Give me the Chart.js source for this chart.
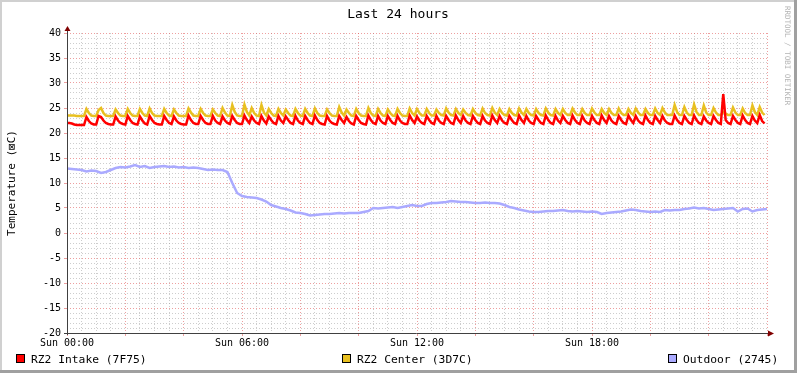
<!DOCTYPE html>
<html lang="en">
<head>
<meta charset="utf-8" />
<title>Last 24 hours</title>
<script src="https://cdn.jsdelivr.net/npm/chart.js@4.4.1/dist/chart.umd.min.js"></script>
<style>
  html, body { margin: 0; padding: 0; background: #fff; }
  #wrap { position: relative; width: 797px; height: 373px; }
</style>
</head>
<body>
<div id="wrap"><canvas id="rrd" width="797" height="373"></canvas></div>
<script>
// series names as in the legend
const seriesNames = ['RZ2 Intake (7F75)', 'RZ2 Center (3D7C)', 'Outdoor (2745)'];
const seriesColors = ['#ff0000', '#e8c020', '#aaaaff'];
const timeLabels = ['Sun 00:00', 'Sun 06:00', 'Sun 12:00', 'Sun 18:00'];

// intake + center are sampled every 5 minutes, outdoor every 10 minutes
const rackStep = 5;
const outdoorStep = 10;

const intake = [
  22.0, 22.0, 21.9, 21.7, 21.6, 21.6, 21.6, 21.6, 23.2, 22.4, 21.9, 21.7,
  21.7, 23.4, 23.2, 22.5, 22.0, 21.8, 21.7, 21.7, 23.3, 22.5, 22.0, 21.8,
  21.7, 23.4, 22.6, 22.0, 21.8, 21.7, 23.3, 22.5, 21.9, 21.7, 23.4, 22.6,
  22.0, 21.8, 21.7, 21.7, 23.4, 22.6, 22.0, 21.8, 23.3, 22.5, 22.0, 21.8,
  21.7, 21.7, 23.5, 22.6, 22.0, 21.8, 21.8, 23.4, 22.6, 22.0, 21.8, 21.8,
  23.4, 22.5, 22.0, 21.8, 23.3, 22.5, 22.0, 21.8, 23.4, 22.6, 22.0, 21.8,
  21.8, 23.5, 22.6, 22.0, 23.3, 22.5, 22.0, 21.8, 23.4, 22.5, 21.9, 23.3,
  22.6, 22.0, 21.8, 23.4, 22.5, 22.0, 23.3, 22.6, 22.0, 21.8, 23.4, 22.5,
  22.0, 21.8, 23.4, 22.6, 22.0, 21.8, 23.5, 22.6, 22.0, 21.8, 21.7, 23.4,
  22.5, 22.0, 21.8, 21.7, 23.4, 22.6, 22.0, 23.2, 22.4, 21.9, 21.7, 23.4,
  22.6, 22.0, 21.8, 21.7, 23.5, 22.6, 22.0, 21.8, 23.4, 22.5, 22.0, 21.8,
  23.4, 22.6, 22.0, 21.8, 23.4, 22.5, 22.0, 21.8, 21.8, 23.5, 22.6, 22.0,
  23.3, 22.5, 22.0, 21.8, 23.4, 22.6, 22.0, 21.8, 23.4, 22.5, 22.0, 21.8,
  23.4, 22.6, 22.0, 21.8, 23.5, 22.6, 22.0, 23.4, 22.5, 22.0, 21.8, 23.4,
  22.6, 22.0, 21.8, 23.4, 22.5, 22.0, 21.8, 23.5, 22.6, 22.0, 23.4, 22.5,
  22.0, 21.8, 23.4, 22.6, 22.0, 21.8, 23.5, 22.6, 22.0, 23.4, 22.5, 22.0,
  21.8, 23.4, 22.6, 22.0, 21.8, 23.5, 22.6, 22.0, 21.8, 23.4, 22.5, 22.0,
  23.4, 22.6, 22.0, 21.8, 23.5, 22.6, 22.0, 21.8, 23.4, 22.5, 22.0, 21.8,
  23.4, 22.6, 22.0, 21.8, 23.5, 22.6, 22.0, 23.4, 22.5, 22.0, 21.8, 23.4,
  22.6, 22.0, 21.8, 23.5, 22.6, 22.0, 23.4, 22.5, 22.0, 21.8, 23.5, 22.6,
  22.0, 21.8, 23.4, 22.6, 22.0, 23.4, 22.5, 22.0, 21.8, 21.8, 23.5, 22.6,
  22.0, 21.8, 23.4, 22.6, 22.0, 21.8, 23.5, 22.6, 22.0, 21.8, 23.3, 22.5,
  22.0, 21.8, 23.4, 22.6, 22.0, 21.8, 27.8, 22.6, 22.0, 21.8, 23.4, 22.6,
  22.0, 21.8, 23.5, 22.6, 22.0, 21.8, 23.4, 22.5, 22.0, 23.6, 22.4, 21.9
];

const center = [
  23.5, 23.5, 23.5, 23.5, 23.4, 23.4, 23.4, 23.4, 24.8, 24.0, 23.5, 23.4,
  23.4, 24.6, 25.0, 24.0, 23.5, 23.4, 23.4, 23.4, 24.7, 24.0, 23.5, 23.4,
  23.4, 24.8, 24.0, 23.5, 23.4, 23.4, 24.8, 24.0, 23.5, 23.4, 24.9, 24.0,
  23.5, 23.4, 23.4, 23.4, 24.8, 24.0, 23.5, 23.4, 24.7, 24.0, 23.5, 23.4,
  23.4, 23.4, 24.9, 24.1, 23.5, 23.4, 23.4, 24.8, 24.0, 23.5, 23.4, 23.4,
  24.7, 24.0, 23.5, 23.4, 25.0, 24.1, 23.5, 23.4, 25.6, 24.2, 23.5, 23.4,
  23.4, 25.7, 24.2, 23.5, 25.0, 24.0, 23.5, 23.4, 25.6, 24.1, 23.5, 24.8,
  24.0, 23.5, 23.4, 24.8, 24.0, 23.5, 24.7, 24.0, 23.5, 23.4, 24.8, 24.0,
  23.5, 23.4, 24.8, 24.0, 23.5, 23.4, 24.9, 24.0, 23.5, 23.4, 23.4, 24.7,
  24.0, 23.5, 23.4, 23.4, 25.2, 24.1, 23.5, 24.7, 24.0, 23.5, 23.4, 24.8,
  24.0, 23.5, 23.4, 23.4, 25.0, 24.0, 23.5, 23.4, 24.8, 24.0, 23.5, 23.4,
  24.7, 24.0, 23.5, 23.4, 24.8, 24.0, 23.5, 23.4, 23.4, 24.9, 24.0, 23.5,
  24.8, 24.0, 23.5, 23.5, 24.8, 24.0, 23.5, 23.5, 24.7, 24.0, 23.6, 23.5,
  24.9, 24.1, 23.6, 23.5, 24.8, 24.0, 23.6, 24.7, 24.0, 23.6, 23.5, 24.8,
  24.0, 23.6, 23.5, 24.9, 24.0, 23.6, 23.5, 25.0, 24.1, 23.6, 24.8, 24.0,
  23.6, 23.5, 24.8, 24.0, 23.6, 23.5, 24.9, 24.1, 23.6, 24.8, 24.0, 23.6,
  23.5, 24.8, 24.0, 23.6, 23.5, 24.9, 24.1, 23.6, 23.5, 24.8, 24.0, 23.6,
  24.8, 24.0, 23.6, 23.6, 24.9, 24.1, 23.6, 23.6, 24.8, 24.0, 23.6, 23.6,
  24.9, 24.1, 23.6, 23.6, 24.8, 24.0, 23.6, 24.8, 24.0, 23.6, 23.6, 24.9,
  24.0, 23.6, 23.6, 24.8, 24.0, 23.6, 24.9, 24.1, 23.6, 23.6, 24.8, 24.0,
  23.6, 23.6, 24.9, 24.0, 23.6, 25.0, 24.1, 23.6, 23.6, 23.6, 25.6, 24.2,
  23.6, 23.6, 25.2, 24.1, 23.6, 23.6, 25.7, 24.2, 23.6, 23.6, 25.5, 24.1,
  23.6, 23.6, 25.0, 24.1, 23.6, 23.6, 24.2, 23.9, 23.6, 23.6, 25.1, 24.1,
  23.6, 23.6, 24.9, 24.0, 23.6, 23.6, 25.5, 24.2, 23.6, 25.2, 24.1, 23.6
];

const outdoor = [
  12.9, 12.8, 12.7, 12.6, 12.3, 12.5, 12.4, 12.0, 12.2, 12.6, 13.0, 13.2,
  13.1, 13.3, 13.6, 13.2, 13.4, 13.0, 13.2, 13.3, 13.4, 13.2, 13.3, 13.1,
  13.2, 13.0, 13.1, 13.0, 12.8, 12.6, 12.7, 12.6, 12.6, 12.2, 10.0, 8.0,
  7.4, 7.2, 7.1, 7.0, 6.7, 6.3, 5.6, 5.3, 5.0, 4.8, 4.5, 4.1,
  4.0, 3.8, 3.5, 3.6, 3.7, 3.8, 3.8, 3.9, 4.0, 3.9, 4.0, 4.0,
  4.0, 4.2, 4.4, 5.0, 4.9, 5.0, 5.1, 5.2, 5.0, 5.2, 5.4, 5.6,
  5.4, 5.4, 5.8, 6.0, 6.0, 6.1, 6.2, 6.4, 6.3, 6.2, 6.2, 6.1,
  6.0, 6.0, 6.1, 6.0, 6.0, 5.9, 5.6, 5.2, 5.0, 4.7, 4.5, 4.3,
  4.2, 4.2, 4.3, 4.4, 4.4, 4.5, 4.6, 4.4, 4.3, 4.4, 4.3, 4.2,
  4.3, 4.2, 3.8, 4.0, 4.1, 4.2, 4.3, 4.5, 4.7, 4.6, 4.4, 4.3,
  4.2, 4.3, 4.2, 4.6, 4.5, 4.6, 4.6, 4.8, 4.9, 5.1, 4.9, 5.0,
  4.8, 4.6, 4.7, 4.8, 4.9, 5.0, 4.3, 4.8, 4.9, 4.3, 4.6, 4.7,
  4.8
];

const FONT = '"DejaVu Sans Mono", "Liberation Mono", monospace';
const GRID = 'rgba(144,144,144,0.45)';
const MGRID = 'rgba(224,80,80,0.55)';

function toPoints(values, step) {
  return values.map((v, i) => ({ x: i * step, y: v }));
}

// frame, axes with arrows, title, legend, watermark (rrdtool look)
const rrdDecor = {
  id: 'rrdDecor',
  beforeDraw(chart) {
    const ctx = chart.ctx, w = chart.width, h = chart.height;
    ctx.save();
    ctx.fillStyle = '#ffffff';
    ctx.fillRect(0, 0, w, h);
    ctx.fillStyle = '#d0d0d0';
    ctx.fillRect(0, 0, w, 2);
    ctx.fillRect(0, 0, 2, h);
    ctx.fillStyle = '#a0a0a0';
    ctx.fillRect(0, h - 3, w, 3);
    ctx.fillRect(w - 3, 0, 3, h);
    ctx.restore();
  },
  afterDraw(chart) {
    const ctx = chart.ctx;
    const a = chart.chartArea;
    const x0 = Math.round(a.left) + 0.5;
    const y0 = Math.round(a.bottom) + 0.5;
    ctx.save();

    // axes
    ctx.strokeStyle = '#404040';
    ctx.lineWidth = 1;
    ctx.beginPath();
    ctx.moveTo(a.left - 3, y0);
    ctx.lineTo(a.right + 2, y0);
    ctx.moveTo(x0, a.bottom + 2);
    ctx.lineTo(x0, a.top - 3);
    ctx.stroke();

    // arrows
    ctx.fillStyle = '#800000';
    ctx.beginPath();
    ctx.moveTo(a.right + 1, y0 - 3);
    ctx.lineTo(a.right + 7, y0);
    ctx.lineTo(a.right + 1, y0 + 3);
    ctx.closePath();
    ctx.fill();
    ctx.beginPath();
    ctx.moveTo(x0 - 3, a.top - 2);
    ctx.lineTo(x0, a.top - 7);
    ctx.lineTo(x0 + 3, a.top - 2);
    ctx.closePath();
    ctx.fill();

    // title
    ctx.fillStyle = '#000';
    ctx.font = '13px ' + FONT;
    ctx.textAlign = 'center';
    ctx.textBaseline = 'alphabetic';
    ctx.fillText('Last 24 hours', 398, 18);

    // y axis title
    ctx.save();
    ctx.translate(12, 183);
    ctx.rotate(-Math.PI / 2);
    ctx.font = '11px ' + FONT;
    ctx.textBaseline = 'middle';
    ctx.fillText('Temperature (\u22A0C)', 0, 0);
    ctx.restore();

    // watermark
    ctx.save();
    ctx.translate(787, 6);
    ctx.rotate(Math.PI / 2);
    ctx.font = '7.5px ' + FONT;
    ctx.fillStyle = '#b4b4b4';
    ctx.textAlign = 'left';
    ctx.textBaseline = 'middle';
    ctx.fillText('RRDTOOL / TOBI OETIKER', 0, 0);
    ctx.restore();

    // legend
    const legendX = [16, 342, 668];
    ctx.font = '11.3px ' + FONT;
    ctx.textAlign = 'left';
    ctx.textBaseline = 'alphabetic';
    seriesNames.forEach((name, i) => {
      ctx.fillStyle = seriesColors[i];
      ctx.fillRect(legendX[i], 354, 9, 9);
      ctx.strokeStyle = '#000';
      ctx.lineWidth = 1;
      ctx.strokeRect(legendX[i] + 0.5, 354.5, 8, 8);
      ctx.fillStyle = '#000';
      ctx.fillText(name, legendX[i] + 15, 363);
    });
    ctx.restore();
  }
};

const ctx = document.getElementById('rrd').getContext('2d');
new Chart(ctx, {
  type: 'line',
  data: {
    datasets: [
      { label: seriesNames[0], data: toPoints(intake, rackStep), borderColor: seriesColors[0] },
      { label: seriesNames[1], data: toPoints(center, rackStep), borderColor: seriesColors[1] },
      { label: seriesNames[2], data: toPoints(outdoor, outdoorStep), borderColor: seriesColors[2] }
    ]
  },
  options: {
    responsive: false,
    animation: false,
    devicePixelRatio: 1,
    layout: { padding: { top: 33, right: 30, bottom: 0, left: 0 } },
    elements: {
      line: { borderWidth: 2.5, tension: 0, fill: false, borderJoinStyle: 'miter' },
      point: { radius: 0 }
    },
    plugins: {
      legend: { display: false },
      title: { display: false },
      tooltip: { enabled: false }
    },
    scales: {
      x: {
        type: 'linear',
        min: 0,
        max: 1440,
        afterFit(scale) { scale.height = 40; },
        ticks: {
          stepSize: 30,
          autoSkip: false,
          maxRotation: 0,
          minRotation: 0,
          padding: 1,
          color: '#000',
          font: { family: FONT, size: 10 },
          callback: (v) => (v % 360 === 0 && v < 1440) ? timeLabels[v / 360] : ''
        },
        grid: {
          color: (c) => (c.tick && c.tick.value % 120 === 0) ? MGRID : GRID,
          tickColor: (c) => (c.tick && c.tick.value % 120 === 0) ? MGRID : 'rgba(0,0,0,0)',
          tickLength: 3,
          lineWidth: 1
        },
        border: { display: false, dash: [1, 2] }
      },
      y: {
        min: -20,
        max: 40,
        afterFit(scale) { scale.width = 67; },
        ticks: {
          stepSize: 1,
          autoSkip: false,
          padding: 3,
          color: '#000',
          font: { family: FONT, size: 10 },
          callback: (v) => (v % 5 === 0) ? String(v) : ''
        },
        grid: {
          color: (c) => (c.tick && c.tick.value % 5 === 0) ? MGRID : GRID,
          tickColor: (c) => (c.tick && c.tick.value % 5 === 0) ? MGRID : 'rgba(0,0,0,0)',
          tickLength: 3,
          lineWidth: 1
        },
        border: { display: false, dash: [1, 2] }
      }
    }
  },
  plugins: [rrdDecor]
});
</script>
</body>
</html>
